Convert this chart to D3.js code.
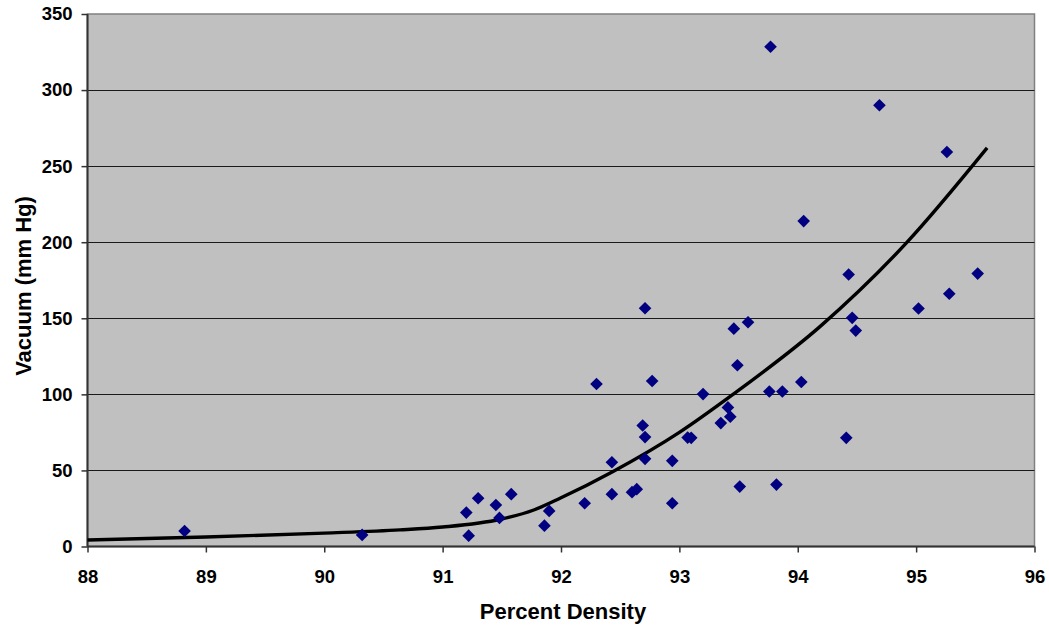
<!DOCTYPE html>
<html>
<head>
<meta charset="utf-8">
<script src="https://cdn.jsdelivr.net/npm/d3@7"></script>
<style>
  body { margin: 0; background: #fff; }
  svg { display: block; font-family: "Liberation Sans", Arial, sans-serif; }
</style>
</head>
<body>
<svg width="1049" height="627"></svg>
<script>
// measured points
const density = [88.82, 90.32, 91.20, 91.30, 91.22, 91.45, 91.48, 91.58, 91.86, 91.90,
    92.20, 92.30, 92.43, 92.43, 92.60, 92.64, 92.69, 92.71, 92.71, 92.71,
    92.77, 92.94, 92.94, 93.07, 93.10, 93.20, 93.35, 93.41, 93.43, 93.46,
    93.58, 93.49, 93.51, 93.76, 93.87, 93.82, 94.03, 93.77, 94.69, 94.05,
    94.43, 95.52, 95.28, 95.02, 94.46, 94.49, 94.41, 95.26];
const vacuum = [10.2, 7.6, 22.3, 31.7, 7.1, 27.3, 18.8, 34.4, 13.7, 23.4,
    28.4, 106.8, 55.4, 34.4, 35.7, 37.7, 79.5, 71.9, 57.6, 156.6,
    108.8, 56.3, 28.4, 71.6, 71.4, 100.2, 81.1, 91.4, 85.3, 143.2,
    147.4, 119.1, 39.4, 101.9, 101.9, 40.7, 108.1, 328.5, 290.0, 213.9,
    178.8, 179.4, 166.1, 156.4, 150.3, 141.9, 71.4, 259.3];

// fitted curve
const trendDensity = [88, 89, 90, 90.64, 91, 91.49, 91.77, 92, 92.44, 93, 93.45, 94.19, 94.92, 95.6];
const trendVacuum = [4.3, 6.2, 8.8, 10.9, 12.8, 17.9, 24, 32, 49.3, 75, 99.8, 144.7, 199.7, 262];

const xTicks = [88, 89, 90, 91, 92, 93, 94, 95, 96];
const yTicks = [0, 50, 100, 150, 200, 250, 300, 350];

const svg = d3.select('svg');

const x = d3.scaleLinear().domain([88, 96]).range([87.5, 1034.5]);
const y = d3.scaleLinear().domain([0, 350]).range([546.5, 14]);

// plot area
svg.append('rect')
    .attr('x', x(88)).attr('y', y(350))
    .attr('width', x(96) - x(88)).attr('height', y(0) - y(350))
    .attr('fill', '#c0c0c0')
    .attr('stroke', '#808080')
    .attr('stroke-width', 1.5);

// gridlines
svg.append('g')
    .selectAll('line')
    .data(yTicks.filter(t => t > 0 && t < 350))
    .enter()
    .append('line')
    .attr('x1', x(88)).attr('x2', x(96))
    .attr('y1', d => Math.round(y(d)) + 0.5)
    .attr('y2', d => Math.round(y(d)) + 0.5)
    .attr('stroke', '#1a1a1a')
    .attr('stroke-width', 1);

// axes
const xAxis = svg.append('g')
    .attr('transform', `translate(0,${y(0)})`)
    .call(d3.axisBottom(x).tickValues(xTicks).tickFormat(d3.format('d')).tickSize(6).tickPadding(17.5));
const yAxis = svg.append('g')
    .attr('transform', `translate(${x(88)},0)`)
    .call(d3.axisLeft(y).tickValues(yTicks).tickSize(6).tickPadding(9));

[xAxis, yAxis].forEach(a => {
    a.select('.domain').attr('stroke', '#333').attr('stroke-width', 2);
    a.selectAll('.tick line').attr('stroke', '#333').attr('stroke-width', 1.5);
    a.selectAll('text')
        .attr('font-family', '"Liberation Sans", Arial, sans-serif')
        .attr('font-size', 18.5)
        .attr('font-weight', 'bold')
        .attr('fill', '#000');
});
yAxis.select('.domain').attr('d', `M0,${y(0)}V${y(350)}`);
xAxis.select('.domain').attr('d', `M${x(88)},0H${x(96)}`);

// trend curve
const line = d3.line()
    .x(d => x(d[0]))
    .y(d => y(d[1]))
    .curve(d3.curveMonotoneX);

svg.append('path')
    .datum(d3.zip(trendDensity, trendVacuum))
    .attr('d', line)
    .attr('fill', 'none')
    .attr('stroke', '#000')
    .attr('stroke-width', 3.4);

// diamonds
const diamond = d3.symbol().type(d3.symbolSquare).size(80);
svg.append('g')
    .selectAll('path')
    .data(d3.zip(density, vacuum))
    .enter()
    .append('path')
    .attr('d', diamond)
    .attr('transform', d => `translate(${x(d[0])},${y(d[1])}) rotate(45)`)
    .attr('fill', '#000080');

// axis titles
svg.append('text')
    .attr('x', 563).attr('y', 619)
    .attr('text-anchor', 'middle')
    .attr('font-size', 22)
    .attr('font-weight', 'bold')
    .text('Percent Density');

svg.append('text')
    .attr('transform', 'translate(31,286) rotate(-90)')
    .attr('text-anchor', 'middle')
    .attr('font-size', 22)
    .attr('font-weight', 'bold')
    .text('Vacuum (mm Hg)');
</script>
</body>
</html>
